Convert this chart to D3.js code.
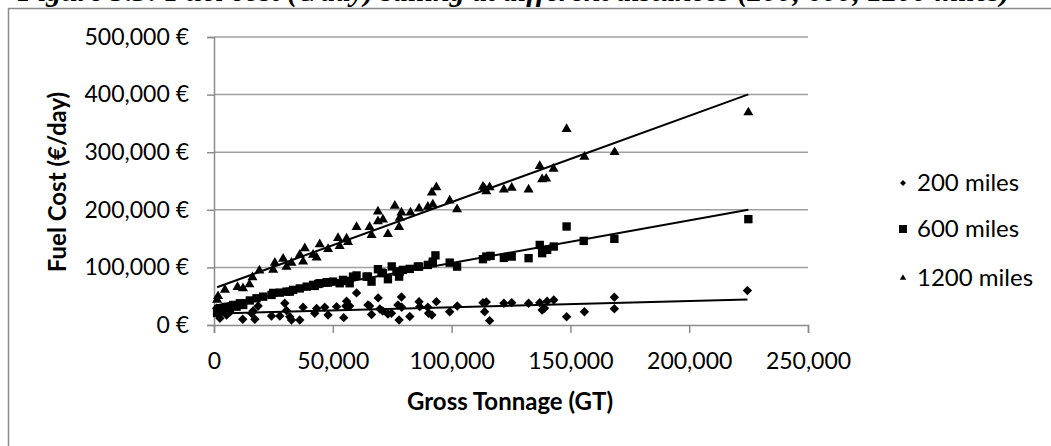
<!DOCTYPE html>
<html>
<head>
<meta charset="utf-8">
<script src="https://cdn.jsdelivr.net/npm/d3@7"></script>
<style>
    body { margin: 0; background: #fff; }
    svg { display: block; }
    text { font-family: Lato, "Open Sans", sans-serif; fill: #000; }
</style>
</head>
<body>
<svg id="chart" width="1051" height="446"></svg>
<script>
// Values (gross tonnage, euro per day)
const seriesNames = ["200 miles", "600 miles", "1200 miles"];

const gt200 = [1100, 1800, 2500, 2500, 3400, 5300, 6700, 12100, 15800, 16500, 17200, 18600, 24200, 27700,
    29800, 30500, 31900, 32600, 36100, 37500, 42400, 43200, 46600, 48000, 51600, 54600, 55500, 55800, 57100,
    60000, 64800, 65500, 66300, 69100, 69800, 71000, 73200, 74700, 77400, 77900, 78900, 79000, 82400, 86300,
    86600, 90000, 90300, 91700, 93600, 99200, 102400, 113200, 114600, 113900, 116000, 122000, 125300, 132400,
    137100, 138100, 139100, 140200, 143000, 148400, 155900, 168500, 168500, 224500];
const cost200 = [29000, 17400, 11700, 22600, 26100, 17400, 22600, 9900, 20300, 24900, 9900, 33000, 15700, 15700,
    37700, 25200, 14400, 8700, 8700, 30800, 20300, 28700, 30800, 17400, 31800, 12700, 33000, 41400, 33000,
    55700, 34800, 33000, 18300, 47000, 27800, 24300, 19100, 20300, 34800, 8700, 48700, 30800, 14800, 40500,
    31800, 30800, 20300, 17400, 40500, 23100, 33000, 38800, 40000, 23100, 7500, 37700, 38800, 37700,
    38800, 26100, 29000, 41200, 43500, 14400, 23100, 48200, 28300, 59700];

const gt600 = [1300, 1800, 2500, 3900, 5000, 6700, 8100, 9500, 10900, 12300, 15100, 17900, 20700, 24200, 24900,
    27700, 30500, 31900, 33300, 36100, 39000, 41700, 42400, 43800, 44500, 47400, 48000, 50100, 52900, 54300,
    55800, 57100, 58500, 60000, 64200, 64800, 66300, 69000, 70500, 71100, 73200, 74800, 76800, 77900, 78200,
    79500, 82400, 85800, 86300, 90000, 92100, 93200, 92100, 99200, 102300, 113200, 114600, 116400, 122000,
    125300, 132400, 137100, 138100, 140200, 143000, 148400, 155600, 168500, 224900];
const cost600 = [20900, 27800, 24300, 26000, 31300, 29000, 34800, 31800, 37700, 34800, 42600, 46400, 49200, 52200, 55700,
    56200, 57900, 57900, 60900, 63500, 66600, 69600, 67800, 71300, 72500, 74300, 73600, 75300, 72500, 78300,
    76500, 72500, 84000, 86000, 84000, 84000, 75300, 96900, 91000, 89900, 79500, 101700, 92700, 84000, 92700,
    95700, 97400, 101400, 101400, 104300, 110000, 120900, 107300, 108300, 101400, 114300, 118800, 120000, 116500,
    118800, 116000, 139000, 124700, 130400, 136200, 171000, 146000, 149600, 183800];

const gt1200 = [1300, 1700, 4600, 9900, 12200, 14900, 16200, 19100, 24900, 25600, 29100, 30500, 32600, 36100,
    38200, 37500, 41700, 43200, 44500, 48000, 52200, 52900, 55800, 56400, 60000, 65500, 66300, 69000, 69000,
    71100, 73200, 76100, 77900, 78200, 78900, 82700, 86300, 90000, 91700, 92100, 93600, 99200, 102300, 113200,
    113900, 114600, 116000, 122000, 125300, 132400, 137100, 138100, 139800, 142900, 148400, 155900, 168600, 224900];
const cost1200 = [43500, 50000, 60900, 66000, 63800, 70400, 82600, 94400, 95600, 108000, 115000, 101000, 108000, 122000,
    133000, 110000, 122000, 117000, 140000, 132000, 151000, 137000, 150000, 144000, 170000, 170000, 156000, 180000, 197000,
    183000, 158000, 207000, 170000, 186000, 195000, 195000, 202000, 205000, 230000, 209000, 239000, 216000, 201000, 240000,
    237000, 232000, 239000, 235000, 238000, 235000, 276000, 253000, 254000, 271000, 340000, 292000, 300000, 369000];

const xTicks = [0, 50000, 100000, 150000, 200000, 250000];
const yTicks = [0, 100000, 200000, 300000, 400000, 500000];

const captionText = "Figure 5.3: Fuel cost (€/day) sailing at different distances (200, 600, 1200 miles)";

// Plot area
const margin = {left: 214, right: 808, top: 37, bottom: 325};

const svg = d3.select("#chart");

// Clipped caption from the page above the figure
svg.append("text")
    .attr("x", 18)
    .attr("y", 1)
    .style("font-family", "'Liberation Serif', serif")
    .style("font-weight", "bold")
    .style("font-style", "italic")
    .style("font-size", "30px")
    .text(captionText);

// Outer chart frame
svg.append("rect")
    .attr("x", 8.5)
    .attr("y", 8.5)
    .attr("width", 1100)
    .attr("height", 500)
    .attr("fill", "#fff")
    .attr("stroke", "#8c8c8c")
    .attr("stroke-width", 1.5);

const x = d3.scaleLinear().domain([0, 250000]).range([margin.left, margin.right]);
const y = d3.scaleLinear().domain([0, 500000]).range([margin.bottom, margin.top]);

const fmt = d3.format(",");

// Horizontal gridlines
svg.append("g")
    .selectAll("line")
    .data(yTicks.filter(d => d > 0))
    .enter()
    .append("line")
    .attr("x1", margin.left)
    .attr("x2", margin.right)
    .attr("y1", d => y(d))
    .attr("y2", d => y(d))
    .attr("stroke", "#a0a0a0")
    .attr("stroke-width", 1.5);

// Y axis
const yAxis = svg.append("g")
    .attr("transform", `translate(${margin.left},0)`)
    .call(d3.axisLeft(y).tickValues(yTicks).tickSize(7).tickPadding(18)
        .tickFormat(d => fmt(d) + " €"));
yAxis.select(".domain").attr("stroke", "#8c8c8c").attr("stroke-width", 1.5);
yAxis.selectAll(".tick line").attr("stroke", "#8c8c8c").attr("stroke-width", 1.5);
yAxis.selectAll(".tick text").style("font-size", "23px").style("font-family", "Lato");

// X axis
const xAxis = svg.append("g")
    .attr("transform", `translate(0,${margin.bottom})`)
    .call(d3.axisBottom(x).tickValues(xTicks).tickSize(8).tickPadding(20)
        .tickFormat(d => fmt(d)));
xAxis.select(".domain").attr("stroke", "#8c8c8c").attr("stroke-width", 1.5);
xAxis.selectAll(".tick line").attr("stroke", "#8c8c8c").attr("stroke-width", 1.5);
xAxis.selectAll(".tick text").style("font-size", "23px").style("font-family", "Lato");

// Axis titles
svg.append("text")
    .attr("transform", "translate(66,182) rotate(-90)")
    .attr("text-anchor", "middle")
    .style("font-weight", "bold")
    .style("font-size", "24px")
    .text("Fuel Cost (€/day)");

svg.append("text")
    .attr("x", 510)
    .attr("y", 410)
    .attr("text-anchor", "middle")
    .style("font-weight", "bold")
    .style("font-size", "24px")
    .text("Gross Tonnage (GT)");

const series = [
    {name: seriesNames[0], xs: gt200, ys: cost200, shape: "diamond"},
    {name: seriesNames[1], xs: gt600, ys: cost600, shape: "square"},
    {name: seriesNames[2], xs: gt1200, ys: cost1200, shape: "triangle"}
];

function markerPath(shape, scale = 1) {
    if (shape === "diamond") return d3.symbol(d3.symbolSquare, 44 * scale)();
    if (shape === "square") return d3.symbol(d3.symbolSquare, 70 * scale)();
    return d3.symbol(d3.symbolTriangle, 44 * scale)();
}

// Least squares fit, like the spreadsheet's linear trendline
function linearFit(xs, ys) {
    const mx = d3.mean(xs), my = d3.mean(ys);
    let num = 0, den = 0;
    xs.forEach((v, i) => {
        num += (v - mx) * (ys[i] - my);
        den += (v - mx) * (v - mx);
    });
    const slope = num / den;
    return {slope, intercept: my - slope * mx};
}

series.forEach(s => {
    const pts = s.xs.map((v, i) => ({gt: v, cost: s.ys[i]}));
    const rot = s.shape === "diamond" ? " rotate(45)" : "";

    svg.append("g")
        .selectAll("path")
        .data(pts)
        .enter()
        .append("path")
        .attr("d", markerPath(s.shape))
        .attr("transform", d => `translate(${x(d.gt)},${y(d.cost)})${rot}`)
        .attr("fill", "#000");

    const fit = linearFit(s.xs, s.ys);
    const [x0, x1] = d3.extent(s.xs);
    svg.append("line")
        .attr("x1", x(x0))
        .attr("y1", y(fit.intercept + fit.slope * x0))
        .attr("x2", x(x1))
        .attr("y2", y(fit.intercept + fit.slope * x1))
        .attr("stroke", "#000")
        .attr("stroke-width", 2);
});

// Legend
const legend = svg.append("g")
    .selectAll("g")
    .data(series)
    .enter()
    .append("g")
    .attr("transform", (d, i) => `translate(903,${[183, 229, 278][i]})`);

legend.append("path")
    .attr("d", d => markerPath(d.shape, d.shape === "square" ? 0.9 : 0.4))
    .attr("transform", d => d.shape === "diamond" ? "rotate(45)" : null)
    .attr("fill", "#000");

legend.append("text")
    .attr("x", 14)
    .attr("dy", "0.35em")
    .style("font-size", "24px")
    .text(d => d.name);
</script>
</body>
</html>
